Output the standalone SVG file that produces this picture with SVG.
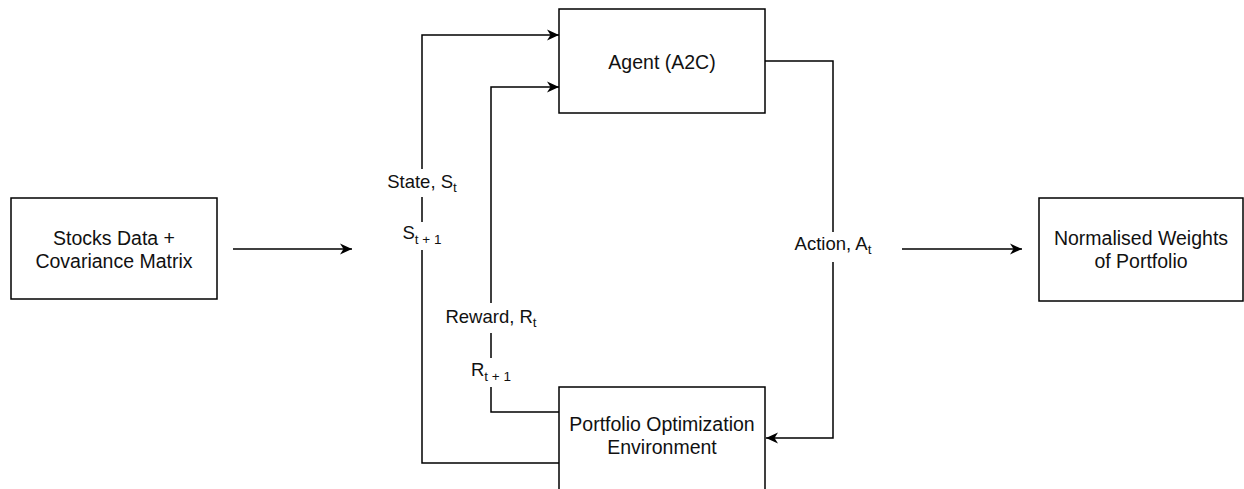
<svg xmlns="http://www.w3.org/2000/svg" width="1244" height="489" viewBox="0 0 1244 489">
  <defs>
    <marker id="arrow" markerUnits="userSpaceOnUse" markerWidth="13" markerHeight="13" refX="12" refY="6.5" orient="auto">
      <path d="M0,1 L12,6.5 L0,12 L3.5,6.5 Z" fill="#000"/>
    </marker>
  </defs>
  <style>
    .box { fill: #fff; stroke: #000; stroke-width: 1.5; }
    .node-text { font-family: "Liberation Sans", Arial, sans-serif; font-size: 19.5px; fill: #111; text-anchor: middle; }
    .edge { fill: none; stroke: #000; stroke-width: 1.5; }
    .arrowed { marker-end: url(#arrow); }
    .label { font-family: "Liberation Sans", Arial, sans-serif; font-size: 18.5px; fill: #111; text-anchor: middle; }
    .sub { font-size: 13.5px; }
    .label-bg { fill: #fff; }
  </style>
  <rect width="1244" height="489" fill="#fff"/>

  <!-- connectors -->
  <g id="connectors">
    <line class="edge arrowed" x1="233" y1="249" x2="352" y2="249"/>
    <line class="edge arrowed" x1="902" y1="249" x2="1022" y2="249"/>
    <!-- state loop: environment back to agent -->
    <polyline class="edge arrowed" points="559,463 422,463 422,35 559,35"/>
    <!-- reward loop -->
    <polyline class="edge arrowed" points="559,412 491,412 491,87 559,87"/>
    <!-- action: agent to environment -->
    <polyline class="edge arrowed" points="765,61 833,61 833,438 766,438"/>

    <!-- label backgrounds break the lines -->
    <rect class="label-bg" x="376" y="169" width="92" height="28"/>
    <rect class="label-bg" x="390" y="222" width="64" height="28"/>
    <rect class="label-bg" x="440" y="303" width="102" height="30"/>
    <rect class="label-bg" x="460" y="358" width="62" height="29"/>
    <rect class="label-bg" x="788" y="232" width="90" height="30"/>

    <text class="label" x="422" y="188">State, S<tspan class="sub" dy="4">t</tspan></text>
    <text class="label" x="422" y="239">S<tspan class="sub" dy="5">t + 1</tspan></text>
    <text class="label" x="491" y="323">Reward, R<tspan class="sub" dy="4">t</tspan></text>
    <text class="label" x="491" y="376">R<tspan class="sub" dy="5">t + 1</tspan></text>
    <text class="label" x="833" y="250">Action, A<tspan class="sub" dy="4">t</tspan></text>
  </g>

  <g id="stocks-data">
    <rect class="box" x="11" y="198" width="206" height="101"/>
    <text class="node-text" x="114" y="245">Stocks Data +</text>
    <text class="node-text" x="114" y="268">Covariance Matrix</text>
  </g>

  <g id="agent">
    <rect class="box" x="559" y="9" width="206" height="104"/>
    <text class="node-text" x="662" y="69">Agent (A2C)</text>
  </g>

  <g id="environment">
    <rect class="box" x="559" y="387" width="206" height="106"/>
    <text class="node-text" x="662" y="431">Portfolio Optimization</text>
    <text class="node-text" x="662" y="454">Environment</text>
  </g>

  <g id="weights">
    <rect class="box" x="1039" y="198" width="204" height="103"/>
    <text class="node-text" x="1141" y="245">Normalised Weights</text>
    <text class="node-text" x="1141" y="268">of Portfolio</text>
  </g>
</svg>
